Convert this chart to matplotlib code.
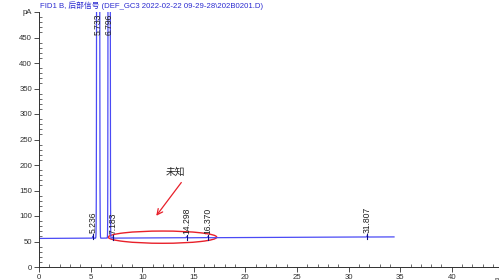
import numpy as np
import matplotlib
matplotlib.use("Agg")
import matplotlib.pyplot as plt
from matplotlib.patches import Ellipse

plt.rcParams['font.family'] = ['Liberation Sans', 'Noto Sans CJK SC']

# peak table
peak_times = [5.236, 5.733, 6.796, 7.183, 14.298, 16.370, 31.807]
peak_heights = [4.0, 60000.0, 40000.0, 3.0, 2.0, 2.0, 2.5]
peak_widths = [0.03, 0.05, 0.038, 0.03, 0.04, 0.04, 0.04]
peak_labels = ['5.236', '5.733', '6.796', '7.183', '14.298', '16.370', '31.807']

# baseline (pA) at start and end of run
run_start, run_end = 0.0, 34.4
base_start, base_end = 56.0, 59.0

title = 'FID1 B, 后部信号 (DEF_GC3 2022-02-22 09-29-28\\202B0201.D)'
x_ticks = [0, 5, 10, 15, 20, 25, 30, 35, 40]
y_ticks = [0, 50, 100, 150, 200, 250, 300, 350, 400, 450, 500]
y_tick_labels = ['0', '50', '100', '150', '200', '250', '300', '350', '400', '450', 'pA']

t = np.linspace(run_start, run_end, 20000)
signal = np.interp(t, [run_start, run_end], [base_start, base_end])
for rt, h, w in zip(peak_times, peak_heights, peak_widths):
    signal = signal + h * np.exp(-0.5 * ((t - rt) / w) ** 2)

fig = plt.figure(figsize=(4.99, 2.80), dpi=100)
ax = fig.add_axes([39 / 499, 13 / 280, 1 - 39 / 499, 255 / 280])

line_col = '#4a4af5'
ax.plot(t, signal, color=line_col, lw=0.9, clip_on=True)

ax.set_xlim(0, 460 / 10.32)
ax.set_ylim(0, 500)

# peak labels
base_at = lambda x: np.interp(x, [run_start, run_end], [base_start, base_end])
for rt, h, lab in zip(peak_times, peak_heights, peak_labels):
    if h > 500:
        ax.text(rt, 497, lab, rotation=90, ha='center', va='top', fontsize=6.2, color='#202020')
    else:
        top = base_at(rt) + h
        ax.plot([rt, rt], [top - 6, top + 4], color='#101080', lw=0.8)
        ax.text(rt, top + 6, lab, rotation=90, ha='center', va='bottom', fontsize=6.2, color='#202020')

# annotation
ax.add_patch(Ellipse((11.97, 58.5), 10.5, 24.0, fill=False, edgecolor='#e8202a', lw=1.0))
ax.annotate('', xy=(11.2, 96), xytext=(13.95, 170),
            arrowprops=dict(arrowstyle='->', color='#e8202a', lw=0.9))
ax.text(13.2, 187, '未知', fontsize=7, ha='center', va='center', color='#222222',
        family=['Noto Sans CJK SC'])

# axes styling
ax.spines['top'].set_visible(False)
ax.spines['right'].set_visible(False)
for s in ('left', 'bottom'):
    ax.spines[s].set_linewidth(0.7)
    ax.spines[s].set_color('#303030')
ax.set_xticks(x_ticks)
ax.set_yticks(y_ticks)
ax.set_yticklabels(y_tick_labels)
ax.set_xticks(np.arange(0, 45, 1), minor=True)
ax.set_yticks(np.arange(0, 501, 10), minor=True)
ax.tick_params(which='major', direction='out', length=3.5, width=0.6, labelsize=5.6, pad=1.5, colors='#303030')
ax.tick_params(which='minor', direction='in', length=2, width=0.5, colors='#303030')

ax.text(44.1, -20, 'min', fontsize=5.6, ha='left', va='top', color='#303030', clip_on=False)

fig.text(40 / 499, 1 - 6 / 280, title, fontsize=5.6, color='#2b2bd0', ha='left', va='center')

fig.savefig('out.png', dpi=100)
